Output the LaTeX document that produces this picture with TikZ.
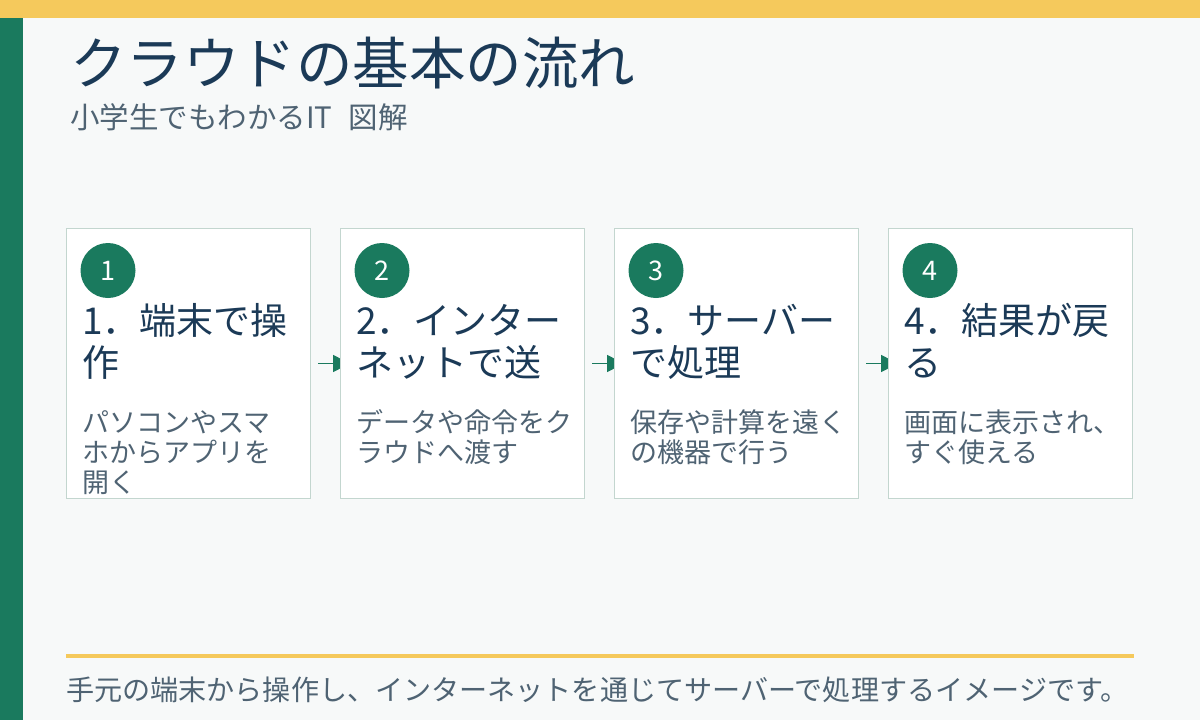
\documentclass[tikz,border=0pt]{standalone}
\usepackage{fontspec}
\setmainfont{Noto Sans CJK JP}
\usetikzlibrary{arrows.meta}
\pgfdeclarelayer{bg}
\pgfdeclarelayer{mid}
\pgfsetlayers{bg,mid,main}
\definecolor{bgc}{HTML}{F7F9F9}
\definecolor{yel}{HTML}{F5C95C}
\definecolor{grn}{HTML}{1A7A5E}
\definecolor{navy}{HTML}{1B3A57}
\definecolor{gry}{HTML}{4F6373}
\definecolor{bord}{HTML}{C3D6CF}
\newcommand{\tstrut}{\rule{0pt}{0.88em}}
\begin{document}
\begin{tikzpicture}[x=1pt,y=-1pt,
  stepbox/.style={draw=bord, line width=1pt, fill=white, minimum width=244pt, minimum height=270pt, anchor=north west, inner sep=0pt},
  badge/.style={circle, fill=grn, minimum size=55pt, inner sep=0pt, text=white, font=\fontsize{27}{30}\selectfont},
  head/.style={anchor=north west, inner sep=0pt, align=left, text=navy, font=\fontsize{37}{42.5}\selectfont},
  desc/.style={anchor=north west, inner sep=0pt, align=left, text=gry, font=\fontsize{27}{30}\selectfont},
  arr/.style={draw=grn, line width=1.5pt, -{Triangle[length=17pt,width=17pt]}}
]
\useasboundingbox (0,0) rectangle (1200,720);
\begin{pgfonlayer}{bg}
  \fill[bgc] (0,0) rectangle (1200,720);
  \fill[yel] (0,0) rectangle (1200,18);
  \fill[grn] (0,18) rectangle (23,720);
  \fill[yel] (66,653.5) rectangle (1134,657.5);
\end{pgfonlayer}

\node[anchor=base west, inner sep=0pt, text=navy, font=\fontsize{56.5}{60}\selectfont] (title) at (70,84.5) {クラウドの基本の流れ};
\node[anchor=base west, inner sep=0pt, text=gry, font=\fontsize{29.5}{32}\selectfont] (sub) at (70,128) {小学生でもわかるIT\hspace{0.55em}図解};

\node[stepbox] (b1) at (66,228) {};
\node[stepbox] (b2) at (340,228) {};
\node[stepbox] (b3) at (614,228) {};
\node[stepbox] (b4) at (888,228) {};

\foreach \i/\h/\d in {
  1/{1．端末で操\\作}/{パソコンやスマ\\ホからアプリを\\開く},
  2/{2．インター\\ネットで送}/{データや命令をク\\ラウドへ渡す},
  3/{3．サーバー\\で処理}/{保存や計算を遠く\\の機器で行う},
  4/{4．結果が戻\\る}/{画面に表示され、\\すぐ使える}}{
  \node[badge] (c\i) at ([shift={(42,42.5)}]b\i.north west) {\i};
  \node[head] (h\i) at ([shift={(16,73.5)}]b\i.north west) {\tstrut\h};
  \node[desc] (d\i) at ([shift={(16,181)}]b\i.north west) {\tstrut\d};
}

\begin{pgfonlayer}{mid}
  \draw[arr] ([xshift=7pt]b1.east) -- ([xshift=10pt]b2.west);
  \draw[arr] ([xshift=7pt]b2.east) -- ([xshift=10pt]b3.west);
  \draw[arr] ([xshift=7pt]b3.east) -- ([xshift=10pt]b4.west);
\end{pgfonlayer}

\node[anchor=base west, inner sep=0pt, text=gry, font=\fontsize{28.1}{32}\selectfont] (foot) at (66,700) {手元の端末から操作し、インターネットを通じてサーバーで処理するイメージです。};
\end{tikzpicture}
\end{document}
